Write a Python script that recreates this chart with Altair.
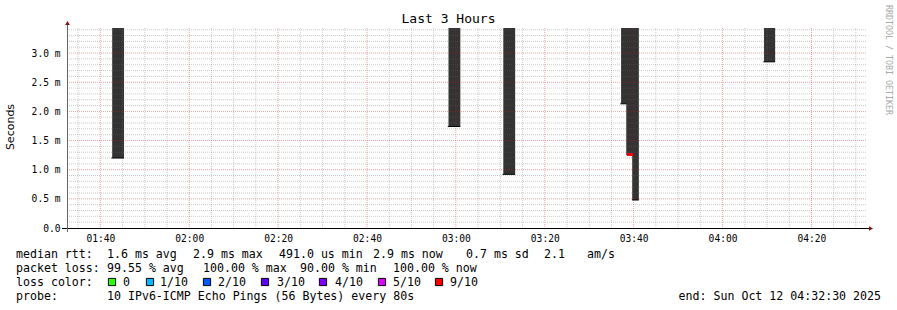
import altair as alt
import pandas as pd

DAY = "2025-10-12T"
T_START = "01:32:30"
T_END = "04:32:30"
Y_MAX = 3.43

# smoke bars (range of rtt per step, clipped at top of graph)
bar_start = ["01:42:40", "02:58:20", "03:10:40", "03:37:10", "03:38:20", "03:39:40", "04:09:20"]
bar_end   = ["01:45:20", "03:01:00", "03:13:20", "03:38:40", "03:40:00", "03:41:10", "04:11:50"]
bar_low   = [1.20, 1.74, 0.92, 2.13, 1.25, 0.48, 2.85]
bar_high  = [3.43, 3.43, 3.43, 3.43, 3.43, 3.43, 3.43]

# median marks
med_start = ["01:42:30", "02:58:10", "03:10:30", "03:37:00", "03:38:30", "03:39:40", "04:09:10"]
med_end   = ["01:45:20", "03:01:00", "03:13:20", "03:38:20", "03:39:50", "03:41:10", "04:11:50"]
med_value = [1.20, 1.74, 0.92, 2.13, 1.26, 0.48, 2.85]
med_loss  = ["10/10", "10/10", "10/10", "10/10", "9/10", "10/10", "10/10"]

# legend
loss_labels = ["0", "1/10", "2/10", "3/10", "4/10", "5/10", "9/10"]
loss_colors = ["#26ff00", "#00b8ff", "#0059ff", "#5e00ff", "#7e00ff", "#dd00ff", "#ff0000"]

rtt_texts = ["median rtt:", "1.6 ms avg", "2.9 ms max", "491.0 us min", "2.9 ms now", "0.7 ms sd", "2.1", "am/s"]
loss_texts = ["packet loss:", "99.55 % avg", "100.00 % max", "90.00 % min", "100.00 % now"]
probe_texts = ["probe:", "10 IPv6-ICMP Echo Pings (56 Bytes) every 80s"]
end_text = "end: Sun Oct 12 04:32:30 2025"

x_ticks = ["01:40", "02:00", "02:20", "02:40", "03:00", "03:20", "03:40", "04:00", "04:20"]
y_ticks = [0.0, 0.5, 1.0, 1.5, 2.0, 2.5, 3.0]


def ts(t):
    return DAY + t + "Z"


def ms(t):
    return int(pd.Timestamp(ts(t)).value // 10**6)


W, H = 800, 200
MONO = "DejaVu Sans Mono"

xscale = alt.Scale(type="utc", domain=[ms(T_START), ms(T_END)], nice=False)
yscale = alt.Scale(domain=[0, Y_MAX], nice=False, zero=False)

bars = pd.DataFrame({
    "start": [ts(t) for t in bar_start],
    "end": [ts(t) for t in bar_end],
    "low": bar_low,
    "high": bar_high,
})
meds = pd.DataFrame({
    "start": [ts(t) for t in med_start],
    "end": [ts(t) for t in med_end],
    "value": med_value,
    "loss": med_loss,
})

# grid positions (axis structure)
minor_x = [t for t in pd.date_range(ts("01:35:00"), ts("04:30:00"), freq="5min")
           if t.minute % 20 != 0]
major_x = [t for t in pd.date_range(ts("01:40:00"), ts("04:20:00"), freq="20min")]
minor_y = [round(i * 0.1, 1) for i in range(1, 35) if i % 5 != 0]
major_y = [v for v in y_ticks if v > 0]

gx_minor = pd.DataFrame({"start": [t.isoformat() for t in minor_x]})
gx_major = pd.DataFrame({"start": [t.isoformat() for t in major_x]})
gy_minor = pd.DataFrame({"low": minor_y})
gy_major = pd.DataFrame({"low": major_y})

X_AXIS = alt.Axis(values=[ms(t) for t in x_ticks],
                  labelExpr="utcFormat(datum.value, '%H:%M')",
                  grid=False, ticks=False, domain=False,
                  labelFont=MONO, labelFontSize=9.6, labelColor="#000000",
                  labelPadding=5, labelFlush=False)
Y_AXIS = alt.Axis(values=y_ticks,
                  labelExpr="datum.value == 0 ? '0.0' : format(datum.value, '.1f') + ' m'",
                  grid=False, ticks=False, domain=False,
                  labelFont=MONO, labelFontSize=9.6, labelColor="#000000",
                  labelPadding=7, labelFlush=False)


def X(field):
    return alt.X(field, scale=xscale, title=None, axis=X_AXIS)


def Y(field):
    return alt.Y(field, scale=yscale, title=None, axis=Y_AXIS)


bar_layer = alt.Chart(bars).mark_rect(color="#333333").encode(
    x=X("start:T"), x2="end:T", y=Y("low:Q"), y2="high:Q")

MINOR = dict(color="#666666", opacity=0.34)
MAJOR = dict(color="#de1616", opacity=0.4)
gminx = alt.Chart(gx_minor).mark_rule(strokeDash=[1, 1], strokeWidth=1, **MINOR).encode(
    x=X("start:T"), y=alt.value(0), y2=alt.value(H))
gmajx = alt.Chart(gx_major).mark_rule(strokeDash=[1, 1], strokeWidth=1, **MAJOR).encode(
    x=X("start:T"), y=alt.value(0), y2=alt.value(H))
gminy = alt.Chart(gy_minor).mark_rule(strokeDash=[1, 1], strokeWidth=1, **MINOR).encode(
    y=Y("low:Q"), x=alt.value(0), x2=alt.value(W))
gmajy = alt.Chart(gy_major).mark_rule(strokeDash=[1, 1], strokeWidth=1, **MAJOR).encode(
    y=Y("low:Q"), x=alt.value(0), x2=alt.value(W))

med_layer = alt.Chart(meds).mark_rule().encode(
    x=X("start:T"),
    x2="end:T",
    y=Y("value:Q"),
    color=alt.Color("loss:N", scale=alt.Scale(domain=["9/10", "10/10"], range=["#ff0000", "#000000"]), legend=None),
    strokeWidth=alt.StrokeWidth("loss:N", scale=alt.Scale(domain=["9/10", "10/10"], range=[3, 1]), legend=None),
)

# axis lines and arrows (decoration)
axis_df = pd.DataFrame({"a": [0]})
xaxis_line = alt.Chart(axis_df).mark_rule(color="#000000", strokeWidth=1).encode(
    x=alt.value(-5), x2=alt.value(W + 4), y=alt.value(H + 0.5))
yaxis_line = alt.Chart(axis_df).mark_rule(color="#666666", strokeWidth=1).encode(
    x=alt.value(0.5), y=alt.value(-6), y2=alt.value(H + 4))
arrow_up = alt.Chart(axis_df).mark_point(shape="triangle-up", filled=True, color="#8b1010", size=22, opacity=1).encode(
    x=alt.value(0.5), y=alt.value(-5))
arrow_right = alt.Chart(axis_df).mark_point(shape="triangle-right", filled=True, color="#8b1010", size=22, opacity=1).encode(
    x=alt.value(W + 4), y=alt.value(H + 0.5))


def text_layer(text, px, py, size=11.6, font=MONO, color="#000000", align="left", angle=0):
    df = pd.DataFrame({"s": [text.replace(" ", "\u00a0")]})
    kw = dict(font=font, fontSize=size, color=color, align=align, baseline="middle")
    if angle:
        kw["angle"] = angle
    return alt.Chart(df).mark_text(**kw).encode(
        x=alt.value(px), y=alt.value(py), text="s:N")


OX, OY = 67, 28  # plot origin in page pixels
texts = []
texts.append(text_layer("Last 3 Hours", 448.5 - OX, 19 - OY, size=13, align="center"))
texts.append(text_layer("Seconds", 11 - OX, 127 - OY, size=11, font="DejaVu Sans", align="center", angle=270))
texts.append(text_layer("RRDTOOL / TOBI OETIKER", 888 - OX, 60 - OY, size=8.3, color="#a8a8a8", align="center", angle=90))

rtt_x = [16, 107, 193, 279, 373, 466, 544, 587]
for s, px in zip(rtt_texts, rtt_x):
    texts.append(text_layer(s, px - OX, 254.5 - OY))
loss_x = [16, 107, 203, 300, 393]
for s, px in zip(loss_texts, loss_x):
    texts.append(text_layer(s, px - OX, 268.5 - OY))
texts.append(text_layer("loss color:", 16 - OX, 282.5 - OY))
box_x = [112, 150, 207, 265, 323, 382, 439]
lab_x = [123, 160, 218, 277, 335, 393, 450]
legend_boxes = []
for lab, col, bx, lx in zip(loss_labels, loss_colors, box_x, lab_x):
    legend_boxes.append(
        alt.Chart(pd.DataFrame({"c": [col]})).mark_square(size=52, fill=col, stroke="#000000", strokeWidth=1, opacity=1).encode(
            x=alt.value(bx - OX), y=alt.value(282 - OY)))
    texts.append(text_layer(lab, lx - OX, 282.5 - OY))
probe_x = [16, 107]
for s, px in zip(probe_texts, probe_x):
    texts.append(text_layer(s, px - OX, 296.5 - OY))
texts.append(text_layer(end_text, 881 - OX, 296.5 - OY, align="right"))

chart = alt.layer(
    bar_layer, gminx, gminy, gmajx, gmajy, med_layer,
    xaxis_line, yaxis_line, arrow_up, arrow_right,
    *legend_boxes, *texts
).properties(
    width=W, height=H,
    padding={"left": OX, "top": OY, "right": 897 - OX - W, "bottom": 310 - OY - H},
    autosize=alt.AutoSizeParams(type="none"),
    background="#ffffff",
).configure_view(stroke=None)

chart.save("out.html", embed_options={"renderer": "svg", "actions": False})
